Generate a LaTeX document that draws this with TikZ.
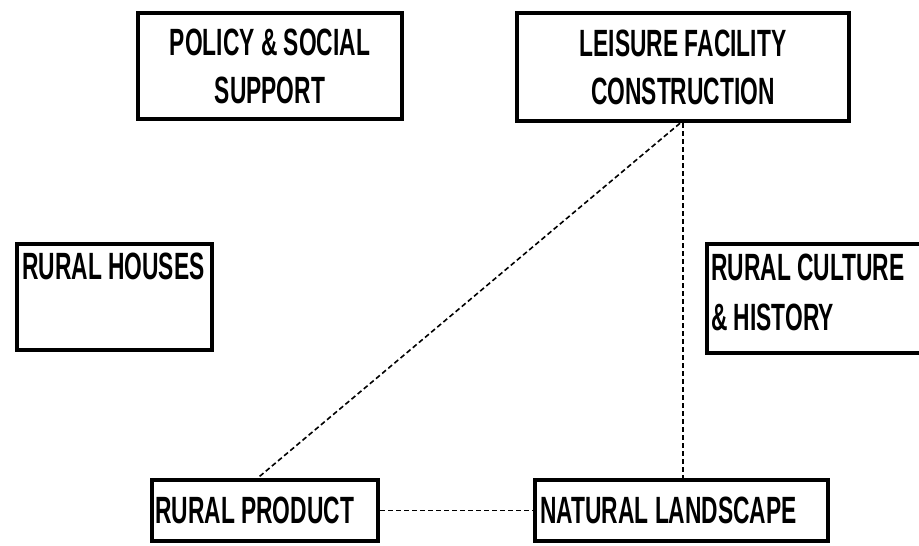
\documentclass[tikz,border=0pt]{standalone}
\usepackage{fontspec}
\newfontfamily\bfam{Liberation Sans}[FakeStretch=0.6]
\usetikzlibrary{calc}
\begin{document}
\begin{tikzpicture}[x=1pt,y=-1pt,
  box/.style={draw=black,line width=4.5pt,rectangle,inner sep=0pt,
    font=\bfam\bfseries\fontsize{38}{48}\selectfont},
  lbl/.style={inner sep=0pt,align=left,font=\bfam\bfseries\fontsize{38}{50}\selectfont},
  link/.style={draw=black,line width=1.6pt,dash pattern=on 5pt off 3pt}]
\useasboundingbox[fill=white] (0,0) rectangle (919,546);
\node[box,minimum width=264pt,minimum height=106pt,align=center] (pol) at (270,66) {POLICY \& SOCIAL\\SUPPORT};
\node[box,minimum width=332pt,minimum height=108pt,align=center] (leis) at (683,67) {LEISURE FACILITY\\CONSTRUCTION};
\node[box,minimum width=195pt,minimum height=106pt] (hous) at (114.5,297) {};
\node[lbl,anchor=north west] (houst) at (22,253) {RURAL HOUSES};
\node[box,minimum width=216pt,minimum height=109pt] (cult) at (815,298.5) {};
\node[lbl,anchor=north west] (cultt) at (711,254) {RURAL CULTURE\\\& HISTORY};
\node[box,minimum width=226pt,minimum height=61pt] (prod) at (265,510.5) {};
\node[lbl,anchor=west] (prodt) at (155,510) {RURAL PRODUCT};
\node[box,minimum width=293pt,minimum height=61pt] (land) at (681.5,510.5) {};
\node[lbl,anchor=west] (landt) at (540,510) {NATURAL LANDSCAPE};
\draw[link] ($(leis.south)+(-3,0)$) -- ($(prod.north)+(-7,0)$);
\draw[link] (leis.south) -- (leis.south |- land.north);
\draw[link] (prod.east) -- (land.west);
\end{tikzpicture}
\end{document}
